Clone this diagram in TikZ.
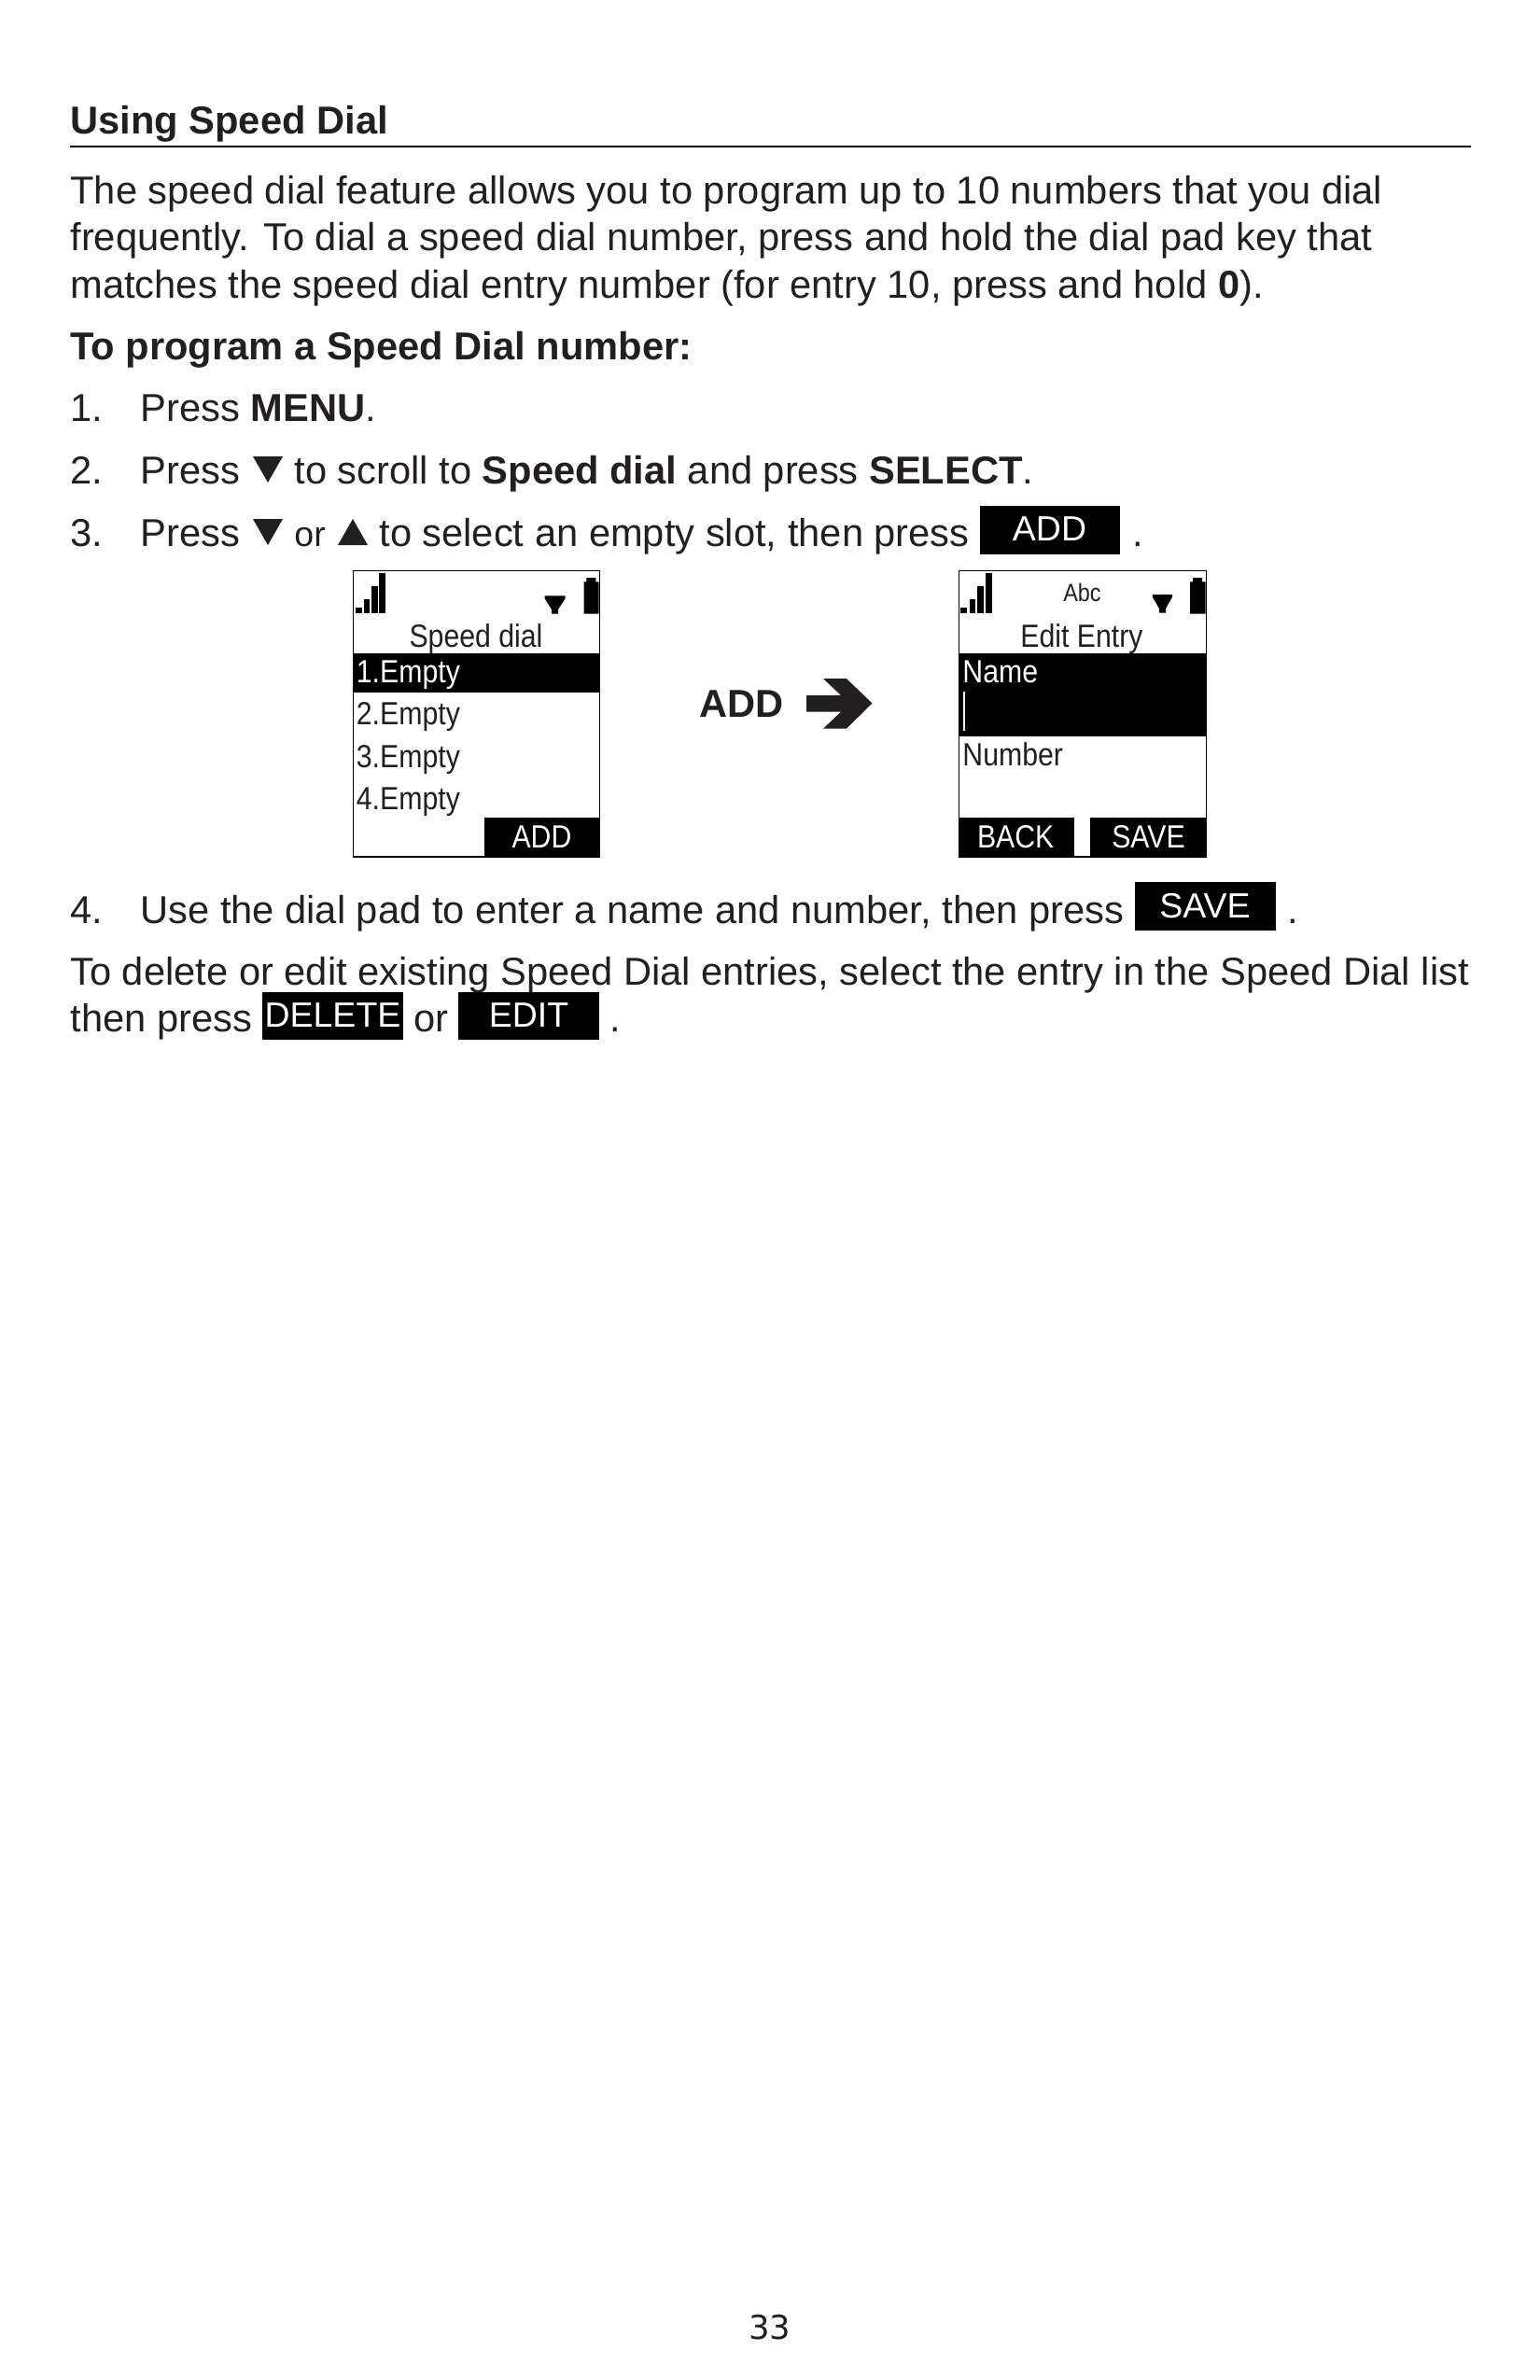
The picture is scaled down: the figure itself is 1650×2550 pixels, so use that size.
\documentclass[tikz,border=0pt]{standalone}
\usepackage{fontspec}
\setmainfont{Liberation Sans}
\newfontfamily\narrowfam[FakeStretch=0.88]{Liberation Sans}
\newfontfamily\pagefam{DejaVu Sans}
\definecolor{ink}{HTML}{231F20}
\tikzset{
  x=0.48pt,y=-0.48pt,
  body/.style={anchor=base west,inner sep=0pt,text=ink,font=\fontsize{20}{22}\selectfont},
  smallbody/.style={anchor=base west,inner sep=0pt,text=ink,font=\fontsize{18}{20}\selectfont},
  headbold/.style={anchor=base west,inner sep=0pt,text=ink,font=\fontsize{20}{22}\selectfont\bfseries},
  softbtn/.style={fill=black,draw=none},
  btntext/.style={anchor=base,inner sep=0pt,text=white,font=\fontsize{18}{20}\selectfont},
  scr/.style={anchor=base west,inner sep=0pt,text=ink,font=\narrowfam\fontsize{16.5}{18}\selectfont},
  scrc/.style={anchor=base,inner sep=0pt,text=ink,font=\narrowfam\fontsize{16.5}{18}\selectfont},
  scrw/.style={anchor=base west,inner sep=0pt,text=white,font=\narrowfam\fontsize{16.5}{18}\selectfont},
  scrwc/.style={anchor=base,inner sep=0pt,text=white,font=\narrowfam\fontsize{16.5}{18}\selectfont},
  framebox/.style={draw=black,line width=0.7pt,fill=white},
}
\begin{document}
\begin{tikzpicture}
\useasboundingbox (0,0) rectangle (1650,2550);
\fill[white] (0,0) rectangle (1650,2550);
% heading
\node[headbold] (title) at (75,143) {Using Speed Dial};
\coordinate (ruleL) at (75,157);
\coordinate (ruleR) at (1576,157);
\draw[black,line width=1.1pt] (ruleL) -- (ruleR);
% paragraph
\node[body] (p1) at (75,218) {The speed dial feature allows you to program up to 10 numbers that you dial};
\node[body] (p2) at (75,268.5) {frequently. To dial a speed dial number, press and hold the dial pad key that};
\node[body] (p3) at (75,319) {matches the speed dial entry number (for entry 10, press and hold \textbf{0}).};
\node[headbold] (sub) at (75,385) {To program a Speed Dial number:};
% step 1
\node[body] (n1) at (75,451.5) {1.};
\node[body] (s1) at (150,451.5) {Press \textbf{MENU}.};
% step 2
\node[body] (n2) at (75,518) {2.};
\node[body] (s2a) at (150,518) {Press};
\fill[ink] (271,489) -- (303,489) -- (287,517) -- cycle;
\node[body] (s2b) at (315,518) {to scroll to \textbf{Speed dial} and press \textbf{SELECT}.};
% step 3
\node[body] (n3) at (75,585) {3.};
\node[body] (s3a) at (150,585) {Press};
\fill[ink] (271,556) -- (303,556) -- (287,584) -- cycle;
\node[smallbody] (s3or) at (315,585) {or};
\fill[ink] (362,584) -- (394,584) -- (378,556) -- cycle;
\node[body] (s3b) at (406,585) {to select an empty slot, then press};
\fill[softbtn] (1050,542) rectangle (1200,594);
\node[btntext] (addbtn) at (1124.5,579) {ADD};
\node[body] (s3dot) at (1213,585) {.};
% left screen
\draw[framebox] (378.5,611.5) rectangle (642.5,918);
\fill[black] (380.8,651) rectangle (388,656.7);
\fill[black] (389.5,642.3) rectangle (396.4,656.7);
\fill[black] (398,627.7) rectangle (404.9,656.7);
\fill[black] (406.4,614) rectangle (413.3,656.7);
\fill[black] (583.5,638.3) -- (605.7,638.3) -- (605.7,641) -- (598,653) -- (598,657.7) -- (591,657.7) -- (591,653) -- (583.5,641) -- cycle;
\fill[black] (625.5,623.3) -- (628.3,623.3) -- (628.3,619) -- (638.3,619) -- (638.3,623.3) -- (641.7,623.3) -- (641.7,657.7) -- (625.5,657.7) -- cycle;
\node[scrc] (speeddial) at (510,693) {Speed dial};
\fill[black] (378.5,700) rectangle (642.5,741.7);
\node[scrw] (e1) at (381.5,731.7) {1.Empty};
\node[scr] (e2) at (381.5,776.7) {2.Empty};
\node[scr] (e3) at (381.5,822) {3.Empty};
\node[scr] (e4) at (381.5,867.7) {4.Empty};
\fill[black] (518.5,876) rectangle (643,918.5);
\node[scrwc] (addsoft) at (580.5,908) {ADD};
% arrow
\node[headbold] (addlabel) at (749,768) {ADD};
\fill[ink] (864,745) -- (901,745) -- (882,727) -- (906.8,727) -- (934.5,753.5) -- (906.8,780.7) -- (882,780.7) -- (901,762.7) -- (864,762.7) -- cycle;
% right screen
\draw[framebox] (1027.5,611.5) rectangle (1292.5,918);
\fill[black] (1029.4,651) rectangle (1036.2,656.7);
\fill[black] (1038.5,642.3) rectangle (1045.4,656.7);
\fill[black] (1047.3,627.7) rectangle (1054.2,656.7);
\fill[black] (1056.1,614) rectangle (1063,656.7);
\node[anchor=base,inner sep=0pt,text=ink,font=\narrowfam\fontsize{12.8}{14}\selectfont] (abc) at (1159.5,644.3) {Abc};
\fill[black] (1234.9,637) -- (1256,637) -- (1256,639.7) -- (1249,652) -- (1249,656.7) -- (1242,656.7) -- (1242,652) -- (1234.9,639.7) -- cycle;
\fill[black] (1275,623.3) -- (1278,623.3) -- (1278,619) -- (1288,619) -- (1288,623.3) -- (1291.5,623.3) -- (1291.5,657.7) -- (1275,657.7) -- cycle;
\node[scrc] (editentry) at (1159,693) {Edit Entry};
\fill[black] (1027.5,700) rectangle (1292.5,789);
\node[scrw] (name) at (1031,731.7) {Name};
\fill[white] (1031.8,740.7) rectangle (1033.8,783.3);
\node[scr] (number) at (1031,820) {Number};
\fill[black] (1027,876) rectangle (1151,918.5);
\fill[black] (1168,876) rectangle (1293,918.5);
\node[scrwc] (back) at (1088.2,908) {BACK};
\node[scrwc] (save) at (1230.5,908) {SAVE};
% step 4
\node[body] (n4) at (75,989) {4.};
\node[body] (s4) at (150,989) {Use the dial pad to enter a name and number, then press};
\fill[softbtn] (1216,945) rectangle (1367,997);
\node[btntext] (savebtn) at (1291,983) {SAVE};
\node[body] (s4dot) at (1379,989) {.};
% closing paragraph
\node[body] (c1) at (75,1055) {To delete or edit existing Speed Dial entries, select the entry in the Speed Dial list};
\node[body] (c2) at (75,1105) {then press};
\fill[softbtn] (281,1063) rectangle (432,1114);
\node[btntext] (delbtn) at (356.5,1100) {DELETE};
\node[body] (c3) at (443,1105) {or};
\fill[softbtn] (491,1063) rectangle (642,1114);
\node[btntext] (editbtn) at (566.5,1100) {EDIT};
\node[body] (c4) at (653,1105) {.};
% page number
\node[anchor=base,inner sep=0pt,text=ink,font=\pagefam\fontsize{17}{19}\selectfont] (page) at (825,2506) {33};
\end{tikzpicture}
\end{document}
